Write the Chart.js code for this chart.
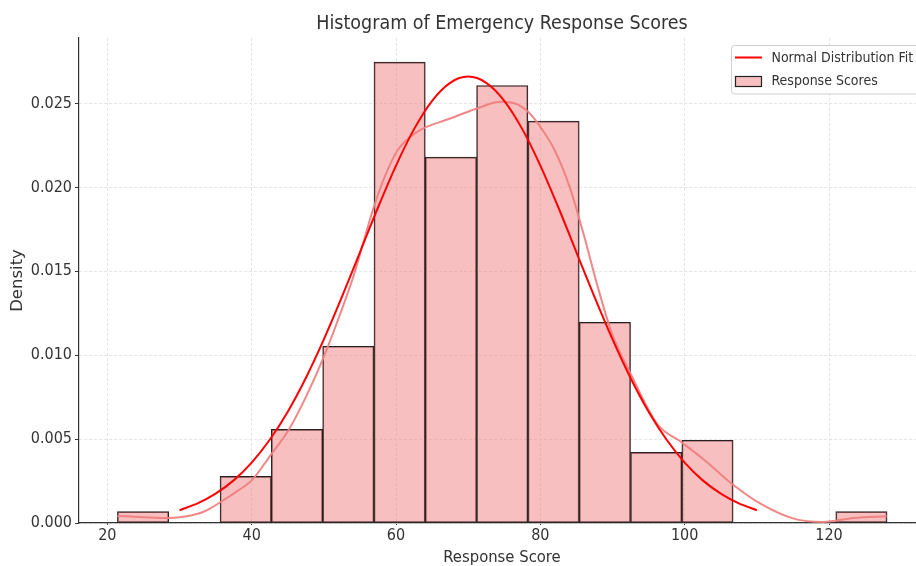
<!DOCTYPE html>
<html>
<head>
<meta charset="utf-8">
<script src="https://cdn.jsdelivr.net/npm/chart.js@4.4.0/dist/chart.umd.min.js"></script>
<style>
  html, body { margin: 0; padding: 0; background: #fff; overflow: hidden; }
  #wrap { width: 926px; height: 566px; }
</style>
</head>
<body>
<div id="wrap"><canvas id="histChart" width="926" height="566"></canvas></div>
<script>
// histogram bins (centres) and density heights
const binCenters = [24.95, 32.06, 39.17, 46.28, 53.39, 60.5, 67.61, 74.72, 81.83, 88.94, 96.05, 103.16, 110.27, 117.38, 124.49];
const binDensity = [0.00068, 0, 0.00278, 0.00558, 0.01053, 0.02746, 0.0218, 0.02607, 0.02395, 0.01196, 0.00421, 0.00493, 0, 0, 0.00068];

// normal fit curve
const normalX = [30, 32.5, 35, 37.5, 40, 42.5, 45, 47.5, 50, 52.5, 55, 57.5, 60, 62.5, 65, 67.5, 70,
                 72.5, 75, 77.5, 80, 82.5, 85, 87.5, 90, 92.5, 95, 97.5, 100, 102.5, 105, 107.5, 110];
const normalY = [0.00076, 0.00117, 0.00175, 0.00254, 0.0036, 0.00496, 0.00663, 0.00864, 0.01094, 0.01347, 0.01613, 0.0188, 0.0213, 0.02347, 0.02516, 0.02623, 0.0266,
                 0.02623, 0.02516, 0.02347, 0.0213, 0.0188, 0.01613, 0.01347, 0.01094, 0.00864, 0.00663, 0.00496, 0.0036, 0.00254, 0.00175, 0.00117, 0.00076];

// kde line
const kdeX = [21.4, 25, 28.5, 31, 33.5, 35.7, 38, 40, 42.6, 45.2, 47.5, 49.8, 52.3, 54.1, 56.9, 58.5, 60.2, 62.9, 67.5, 71.2, 74.5, 76.5, 78.3, 80, 82, 84, 86, 88, 90, 92.5, 96.2, 99.6, 102.6, 106.8, 110.5, 115.1, 119.2, 123.4, 128];
const kdeY = [0.00042, 0.00035, 0.0003, 0.0004, 0.0007, 0.00125, 0.0019, 0.00254, 0.00403, 0.0056, 0.0075, 0.0097, 0.0125, 0.0147, 0.0188, 0.0207, 0.0222, 0.0233, 0.0241, 0.0247, 0.0251, 0.025, 0.0245, 0.0236, 0.0222, 0.0201, 0.0172, 0.014, 0.0112, 0.0089, 0.0059, 0.0048, 0.0038, 0.00225, 0.00115, 0.00026, 0.00006, 0.0003, 0.0004];

const xTicks = [20, 40, 60, 80, 100, 120];
const yTicks = [0, 0.005, 0.010, 0.015, 0.020, 0.025];

const barFill = 'rgba(240,128,128,0.5)';
const textColor = '#333';
const fontCond = 'DejaVu Sans Condensed';

const toPoints = (xs, ys) => xs.map((x, i) => ({ x: x, y: ys[i] }));

// matplotlib-like legend box in the top right corner
const boxLegend = {
  id: 'boxLegend',
  afterDraw(chart) {
    const c = chart.ctx;
    c.save();
    const x0 = 731.5, y0 = 45.5, w = 220, h = 48.5;
    c.fillStyle = 'rgba(255,255,255,0.85)';
    c.strokeStyle = '#d0d0d0';
    c.lineWidth = 1;
    c.beginPath();
    c.roundRect(x0, y0, w, h, 3);
    c.fill();
    c.stroke();

    c.strokeStyle = 'red';
    c.lineWidth = 2;
    c.beginPath();
    c.moveTo(735, 57.5);
    c.lineTo(762, 57.5);
    c.stroke();

    c.fillStyle = barFill;
    c.fillRect(735.5, 76.5, 26, 10);
    c.strokeStyle = '#222';
    c.lineWidth = 1.2;
    c.strokeRect(735.5, 76.5, 26, 10);

    c.fillStyle = textColor;
    c.font = '14px "' + fontCond + '"';
    c.textBaseline = 'middle';
    c.fillText(chart.data.datasets[0].label, 771.5, 58);
    c.fillText(chart.data.datasets[2].label, 771.5, 81.5);
    c.restore();
  }
};

var ctx = document.getElementById('histChart').getContext('2d');
var histChart = new Chart(ctx, {
  type: 'bar',
  data: {
    datasets: [{
      type: 'line',
      label: 'Normal Distribution Fit',
      data: toPoints(normalX, normalY),
      borderColor: 'red',
      borderWidth: 2,
      pointRadius: 0,
      cubicInterpolationMode: 'monotone',
      fill: false,
      order: 1
    }, {
      type: 'line',
      label: 'KDE',
      data: toPoints(kdeX, kdeY),
      borderColor: 'rgba(240,128,128,0.95)',
      borderWidth: 2,
      pointRadius: 0,
      cubicInterpolationMode: 'monotone',
      fill: false,
      order: 2
    }, {
      label: 'Response Scores',
      data: toPoints(binCenters, binDensity),
      backgroundColor: barFill,
      borderColor: '#222',
      borderWidth: 1,
      borderSkipped: false,
      barPercentage: 1,
      categoryPercentage: 1,
      order: 3
    }]
  },
  options: {
    responsive: false,
    animation: false,
    layout: { padding: { left: 0, right: 1, top: 0, bottom: 0 } },
    plugins: {
      legend: { display: false },
      tooltip: { enabled: false },
      title: {
        display: true,
        fullSize: false,
        text: 'Histogram of Emergency Response Scores',
        color: textColor,
        font: { family: fontCond, size: 19.5, weight: 'normal', lineHeight: 1.2 },
        padding: { top: 12, bottom: 2.6 }
      }
    },
    scales: {
      x: {
        type: 'linear',
        offset: false,
        min: 16.07,
        max: 133.3,
        afterBuildTicks: (scale) => { scale.ticks = xTicks.map(v => ({ value: v })); },
        afterFit: (scale) => { scale.height = 43; },
        ticks: {
          color: textColor,
          padding: 1,
          font: { family: fontCond, size: 16 },
          maxRotation: 0,
          callback: (v) => String(v)
        },
        grid: {
          offset: false,
          color: '#e4e4e4',
          tickLength: 2,
          tickColor: '#333',
          tickBorderDash: []
        },
        border: { display: true, color: '#333', width: 1.2, dash: [3, 2] },
        title: {
          display: true,
          text: 'Response Score',
          color: textColor,
          font: { family: fontCond, size: 16.5, lineHeight: 1 },
          padding: 0
        }
      },
      y: {
        min: 0,
        max: 0.0289,
        afterBuildTicks: (scale) => { scale.ticks = yTicks.map(v => ({ value: v })); },
        afterFit: (scale) => { scale.width = 79; },
        ticks: {
          color: textColor,
          padding: 3,
          font: { family: fontCond, size: 16 },
          callback: (v) => v.toFixed(3)
        },
        grid: {
          color: '#e4e4e4',
          tickLength: 4,
          tickColor: '#333',
          tickBorderDash: []
        },
        border: { display: true, color: '#333', width: 1.2, dash: [3, 2] },
        title: {
          display: true,
          text: 'Density',
          color: textColor,
          font: { family: 'DejaVu Sans', size: 16.5, lineHeight: 1 },
          padding: { top: 9 }
        }
      }
    }
  },
  plugins: [boxLegend]
});
</script>
</body>
</html>
